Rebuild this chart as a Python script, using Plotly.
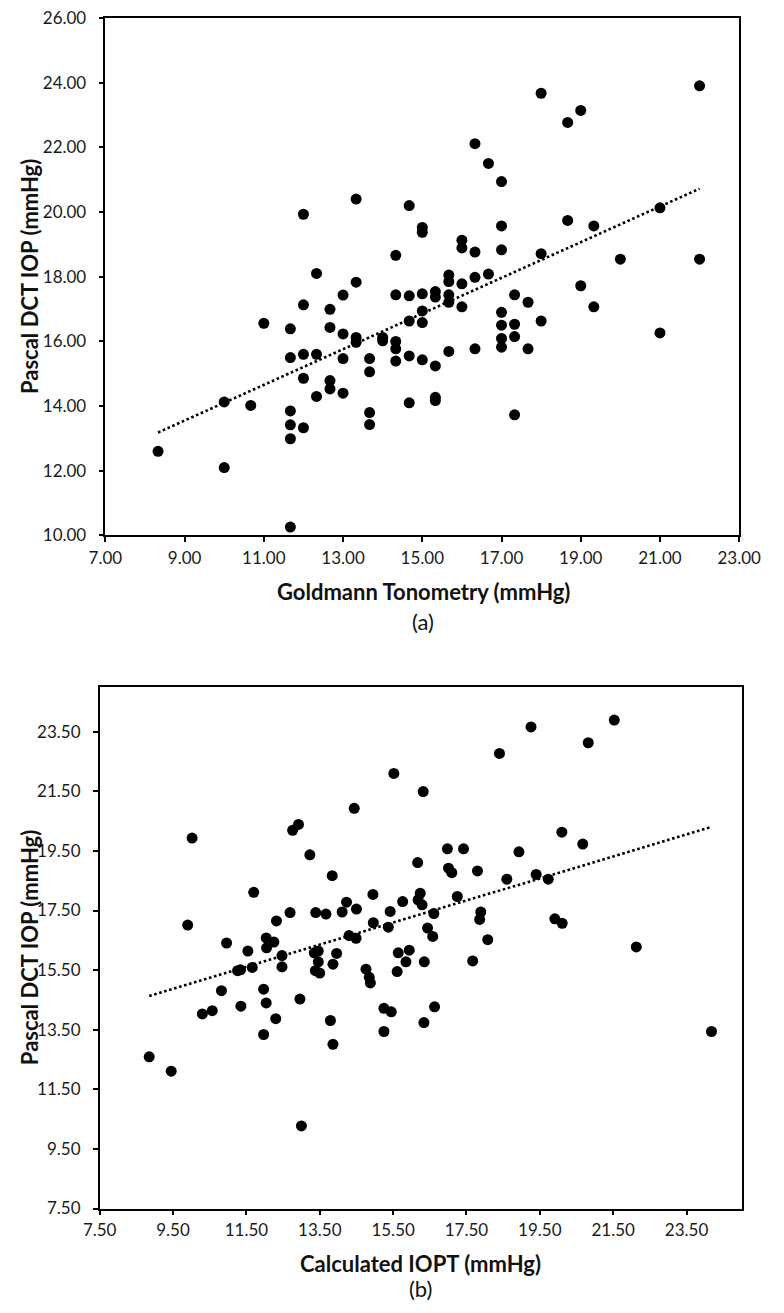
import numpy as np
import plotly.graph_objects as go

# ---- Data: panel (a) Goldmann vs Pascal DCT ----
gat_x = [8.33, 10.00, 10.00, 10.67, 11.00, 11.67, 11.67, 11.67, 11.67, 11.67, 11.67,
         12.00, 12.00, 12.00, 12.00, 12.00, 12.33, 12.33, 12.33, 12.67, 12.67, 12.67, 12.67,
         13.00, 13.00, 13.00, 13.00, 13.33, 13.33, 13.33, 13.33, 13.67, 13.67, 13.67, 13.67,
         14.00, 14.00, 14.33, 14.33, 14.33, 14.33, 14.33, 14.67, 14.67, 14.67, 14.67, 14.67,
         15.00, 15.00, 15.00, 15.00, 15.00, 15.00, 15.33, 15.33, 15.33, 15.33, 15.33,
         15.67, 15.67, 15.67, 15.67, 15.67, 16.00, 16.00, 16.00, 16.00, 16.33, 16.33, 16.33, 16.33,
         16.67, 16.67, 17.00, 17.00, 17.00, 17.00, 17.00, 17.00, 17.00, 17.33, 17.33, 17.33, 17.33,
         17.67, 17.67, 18.00, 18.00, 18.00, 18.67, 18.67, 19.00, 19.00, 19.33, 19.33, 20.00,
         21.00, 21.00, 22.00, 22.00]
dct_a = [12.60, 14.13, 12.10, 14.02, 16.56, 16.39, 15.50, 13.85, 13.42, 12.99, 10.26,
         19.93, 17.13, 15.60, 14.86, 13.33, 18.10, 15.60, 14.30, 16.99, 16.43, 14.79, 14.53,
         17.43, 16.23, 15.47, 14.40, 20.40, 17.83, 16.12, 15.97, 15.47, 15.06, 13.80, 13.43,
         16.12, 16.02, 18.66, 17.44, 16.00, 15.77, 15.39, 20.20, 17.41, 16.63, 15.55, 14.10,
         19.52, 19.37, 17.47, 16.94, 16.58, 15.43, 17.54, 17.37, 15.24, 14.27, 14.17,
         18.05, 17.85, 17.44, 17.21, 15.69, 19.13, 18.89, 17.78, 17.07, 22.11, 18.76, 17.98, 15.77,
         21.50, 18.08, 20.94, 19.57, 18.83, 16.90, 16.50, 16.09, 15.82, 17.44, 16.53, 16.15, 13.73,
         17.21, 15.77, 23.67, 18.71, 16.63, 22.77, 19.74, 23.14, 17.72, 19.57, 17.07, 18.54,
         20.13, 16.26, 23.90, 18.54]

# ---- Data: panel (b) Calculated IOPT vs Pascal DCT ----
iopt_x = [10.02, 9.90, 10.96, 11.54, 11.70, 12.04, 12.25, 12.05, 12.32, 12.47, 12.69, 12.76,
          12.92, 13.23, 13.39, 13.67, 13.84, 13.35, 13.46, 13.96, 14.11, 14.23, 14.30, 14.50,
          14.49, 14.44, 14.95, 14.96, 15.37, 15.42, 15.52, 16.32, 18.40, 19.26, 20.82, 21.53,
          20.10, 20.67, 18.93, 16.98, 17.42, 16.17, 17.01, 17.10, 17.80, 18.60, 19.40, 19.73,
          16.24, 16.18, 16.29, 15.76, 17.25, 16.61, 16.44, 16.58, 17.89, 17.86, 18.08, 19.91,
          20.11, 22.13, 15.64, 15.94, 8.85, 9.45, 10.30, 10.57, 10.82, 11.26, 11.34, 11.35,
          11.66, 11.97, 12.04, 11.97, 12.30, 12.47, 12.96, 13.00, 13.46, 13.38, 13.50, 13.86,
          13.79, 13.86, 14.76, 14.85, 14.88, 15.25, 15.45, 15.25, 15.85, 15.61, 16.35, 17.67,
          16.63, 16.34, 24.18]
dct_b = [19.93, 17.01, 16.41, 16.14, 18.11, 16.58, 16.44, 16.25, 17.15, 15.99, 17.43, 20.19,
         20.39, 19.37, 17.43, 17.38, 18.67, 16.08, 16.14, 16.06, 17.45, 17.78, 16.66, 17.55,
         16.57, 20.93, 18.04, 17.09, 16.94, 17.47, 22.10, 21.49, 22.77, 23.66, 23.13, 23.89,
         20.13, 19.73, 19.47, 19.57, 19.57, 19.11, 18.92, 18.77, 18.83, 18.55, 18.71, 18.55,
         18.08, 17.86, 17.69, 17.80, 17.97, 17.40, 16.91, 16.63, 17.45, 17.20, 16.52, 17.22,
         17.07, 16.28, 16.08, 16.17, 12.59, 12.11, 14.03, 14.14, 14.81, 15.48, 15.51, 14.29,
         15.59, 14.86, 14.40, 13.34, 13.87, 15.61, 14.53, 10.27, 15.78, 15.48, 15.40, 15.70,
         13.81, 13.01, 15.53, 15.26, 15.07, 14.22, 14.10, 13.44, 15.78, 15.45, 15.78, 15.81,
         14.27, 13.74, 13.44]

ticks_a_x = [7, 9, 11, 13, 15, 17, 19, 21, 23]
ticks_a_y = [10, 12, 14, 16, 18, 20, 22, 24, 26]
ticks_b = [7.5, 9.5, 11.5, 13.5, 15.5, 17.5, 19.5, 21.5, 23.5]

W, H = 784, 1313
FONT = "Lato"


def px_x(p):
    return p / W


def px_y(p):
    return 1 - p / H


def trend(x, y):
    x = np.asarray(x, float)
    y = np.asarray(y, float)
    m, b = np.polyfit(x, y, 1)
    xs = np.array([x.min(), x.max()])
    return xs, m * xs + b


fig = go.Figure()

marker = dict(color="black", size=11, line=dict(width=0))
dotline = dict(color="black", width=2.6, dash="2.6px,2.6px")

fig.add_trace(go.Scatter(x=gat_x, y=dct_a, mode="markers", marker=marker,
                         xaxis="x", yaxis="y", showlegend=False))
tx, ty = trend(gat_x, dct_a)
fig.add_trace(go.Scatter(x=tx, y=ty, mode="lines", line=dotline,
                         xaxis="x", yaxis="y", showlegend=False))

fig.add_trace(go.Scatter(x=iopt_x, y=dct_b, mode="markers", marker=marker,
                         xaxis="x2", yaxis="y2", showlegend=False))
tx2, ty2 = trend(iopt_x, dct_b)
fig.add_trace(go.Scatter(x=tx2, y=ty2, mode="lines", line=dotline,
                         xaxis="x2", yaxis="y2", showlegend=False))

axis_common = dict(showline=True, mirror=True, linecolor="black", linewidth=1.5,
                   ticks="outside", ticklen=5, tickwidth=1.5, tickcolor="black",
                   showgrid=False, zeroline=False, ticklabeloverflow="allow",
                   tickfont=dict(family=FONT, size=17, color="#1a1a1a"))

fig.update_layout(
    width=W, height=H,
    margin=dict(l=0, r=0, t=0, b=0),
    paper_bgcolor="white", plot_bgcolor="white",
    xaxis=dict(axis_common, domain=[px_x(93), px_x(760)], range=[7, 23],
               tickvals=ticks_a_x, ticktext=[f"{v:.2f}" for v in ticks_a_x],
               anchor="y", ticklabelstandoff=1),
    yaxis=dict(axis_common, domain=[px_y(533), px_y(7)], range=[10, 26],
               tickvals=ticks_a_y, ticktext=[f"{v:.2f}" for v in ticks_a_y],
               anchor="x", ticklabelstandoff=9),
    xaxis2=dict(axis_common, domain=[px_x(87), px_x(762.5)], range=[7.5, 25],
                tickvals=ticks_b, ticktext=[f"{v:.2f}" for v in ticks_b],
                anchor="y2", ticklabelstandoff=0),
    yaxis2=dict(axis_common, domain=[px_y(1217), px_y(687)], range=[7.5, 25],
                tickvals=ticks_b, ticktext=[f"{v:.2f}" for v in ticks_b],
                anchor="x2", ticklabelstandoff=9),
)

title_font = dict(family=FONT, size=22, color="#111111")
label_font = dict(family=FONT, size=22, color="#111111")

annotations = [
    dict(text="<b>Goldmann Tonometry (mmHg)</b>", x=px_x(428), y=px_y(590), font=title_font),
    dict(text="(a)", x=px_x(427), y=px_y(620), font=label_font),
    dict(text="<b>Pascal DCT IOP (mmHg)</b>", x=px_x(13), y=px_y(270), font=title_font,
         textangle=-90),
    dict(text="<b>Calculated IOPT (mmHg)</b>", x=px_x(425), y=px_y(1273), font=title_font),
    dict(text="(b)", x=px_x(425), y=px_y(1298), font=label_font),
    dict(text="<b>Pascal DCT IOP (mmHg)</b>", x=px_x(13), y=px_y(952), font=title_font,
         textangle=-90),
]
for a in annotations:
    a.update(xref="paper", yref="paper", showarrow=False, xanchor="center", yanchor="middle")
fig.update_layout(annotations=annotations)

fig.write_html("out.html",
               config={"displayModeBar": False},
               post_script="document.body.style.margin='0';document.body.style.overflow='hidden';")
